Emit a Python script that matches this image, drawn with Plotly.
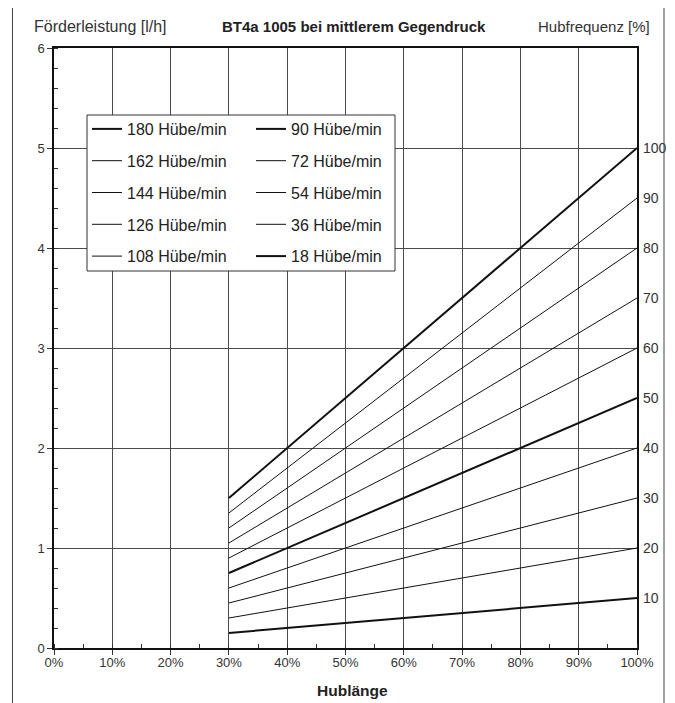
import plotly.graph_objects as go

# Data
rates = [180, 162, 144, 126, 108, 90, 72, 54, 36, 18]          # Hübe/min
stroke_x = [30, 100]                                              # Hublänge [%]
flow_at_30 = [1.5, 1.35, 1.2, 1.05, 0.9, 0.75, 0.6, 0.45, 0.3, 0.15]   # l/h
flow_at_100 = [5.0, 4.5, 4.0, 3.5, 3.0, 2.5, 2.0, 1.5, 1.0, 0.5]       # l/h
thick = {180, 90, 18}
x_ticks = [0, 10, 20, 30, 40, 50, 60, 70, 80, 90, 100]
x_labels = [f"{v}%" for v in x_ticks]
y_ticks = [0, 1, 2, 3, 4, 5, 6]
freq_ticks = [10, 20, 30, 40, 50, 60, 70, 80, 90, 100]

FONT = "Liberation Sans, Arial, Helvetica, sans-serif"
OFF = 8                      # page body margin
W, H = 675 - 2 * OFF, 703 - OFF
# plot area in screenshot pixels: x 54..637, y 48..648
L, R, T, B = 54 - OFF, W - (637 - OFF), 48 - OFF, H - (648 - OFF)
pw, ph = W - L - R, H - T - B

def px_x(p):
    return (p - OFF - L) / pw

def px_y(p):
    return (H - B - (p - OFF)) / ph

fig = go.Figure()
for i, (r, a, b) in enumerate(zip(rates, flow_at_30, flow_at_100)):
    fig.add_trace(go.Scatter(
        x=stroke_x, y=[a, b], mode="lines",
        name=f"{r} Hübe/min",
        line=dict(color="#111111", width=2 if r in thick else 1),
        legend="legend" if i < 5 else "legend2",
        legendgroup=str(r),
        showlegend=True,
    ))

# invisible trace for right axis
fig.add_trace(go.Scatter(x=[None], y=[None], yaxis="y2", showlegend=False))

axis_common = dict(
    showline=True, linecolor="#111111", linewidth=1.5,
    showgrid=True, gridcolor="#4a4a4a", gridwidth=1,
    zeroline=False, automargin=False,
    ticks="outside", ticklen=5, tickcolor="#333333",
)

fig.update_layout(
    width=W, height=H,
    margin=dict(l=L, r=R, t=T, b=B, autoexpand=False),
    paper_bgcolor="white", plot_bgcolor="white",
    font=dict(family=FONT, color="#222222"),
    xaxis=dict(range=[0, 100], tickmode="array", tickvals=x_ticks, ticktext=x_labels,
               mirror=True, ticklabelstandoff=-3,
               tickfont=dict(family=FONT, size=13, color="#333333"),
               minor=dict(ticks="inside", tickmode="linear", tick0=0, dtick=5, ticklen=4,
                          tickcolor="#333333", showgrid=False),
               **axis_common),
    yaxis=dict(range=[0, 6], tickmode="array", tickvals=y_ticks, mirror=True,
               tickfont=dict(family=FONT, size=13, color="#333333"),
               ticklabelstandoff=0,
               minor=dict(ticks="inside", tickmode="linear", tick0=0, dtick=0.2, ticklen=4,
                          tickcolor="#333333", showgrid=False),
               **axis_common),
    yaxis2=dict(range=[0, 120], tickvals=freq_ticks, overlaying="y", side="right",
                showgrid=False, showline=False, zeroline=False, automargin=False,
                ticks="", ticklabelstandoff=5,
                tickfont=dict(family=FONT, size=14, color="#333333")),
    legend=dict(x=px_x(87), y=px_y(112), xanchor="left", yanchor="top",
                bgcolor="rgba(0,0,0,0)", borderwidth=0,
                font=dict(family=FONT, size=16, color="#222222"),
                tracegroupgap=8, itemwidth=30),
    legend2=dict(x=px_x(251), y=px_y(112), xanchor="left", yanchor="top",
                 bgcolor="rgba(0,0,0,0)", borderwidth=0,
                 font=dict(family=FONT, size=16, color="#222222"),
                 tracegroupgap=8, itemwidth=30),
    showlegend=True,
)

# legend frame and outer frame
fig.add_shape(type="rect", xref="paper", yref="paper",
              x0=px_x(87), x1=px_x(395), y0=px_y(271), y1=px_y(115),
              line=dict(color="#333333", width=1), fillcolor="white", layer="above")
fig.add_shape(type="rect", xref="paper", yref="paper",
              x0=px_x(12.5), x1=px_x(664), y0=px_y(760), y1=px_y(3),
              line=dict(color="#444444", width=1), fillcolor="rgba(0,0,0,0)", layer="above")

fig.add_annotation(text="Förderleistung [l/h]", xref="paper", yref="paper",
                   x=px_x(32), y=px_y(26), xanchor="left", yanchor="middle",
                   showarrow=False, font=dict(family=FONT, size=16, color="#333333"))
fig.add_annotation(text="<b>BT4a 1005 bei mittlerem Gegendruck</b>", xref="paper", yref="paper",
                   x=px_x(354), y=px_y(26), xanchor="center", yanchor="middle",
                   showarrow=False, font=dict(family=FONT, size=15, color="#222222"))
fig.add_annotation(text="Hubfrequenz [%]", xref="paper", yref="paper",
                   x=px_x(652), y=px_y(26), xanchor="right", yanchor="middle",
                   showarrow=False, font=dict(family=FONT, size=15, color="#333333"))
fig.add_annotation(text="<b>Hublänge</b>", xref="paper", yref="paper",
                   x=px_x(352), y=px_y(690), xanchor="center", yanchor="middle",
                   showarrow=False, font=dict(family=FONT, size=15.5, color="#222222"))

fig.write_html("out.html")
